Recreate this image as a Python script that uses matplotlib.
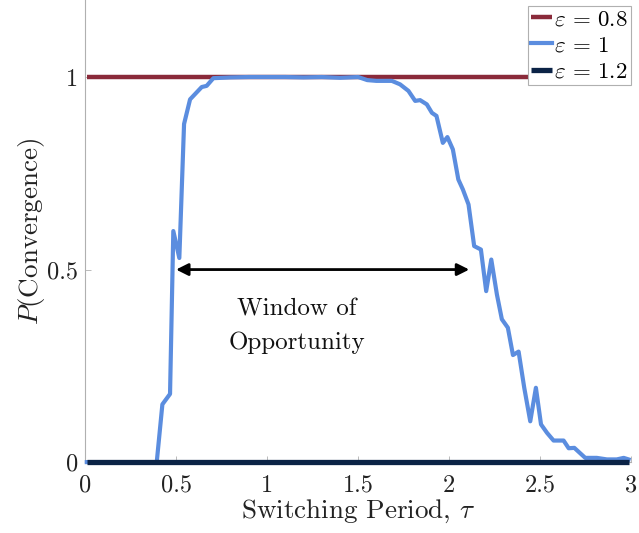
import matplotlib
matplotlib.use("Agg")
import matplotlib.pyplot as plt

plt.rcParams['font.family'] = ['cmr10', 'DejaVu Serif']
plt.rcParams['mathtext.fontset'] = 'cm'
plt.rcParams['axes.formatter.use_mathtext'] = True

# constant series
tau_const = [0.01, 2.985]
p_eps08 = [1.0, 1.0]
p_eps12 = [0.0, 0.0]

# epsilon = 1 series
tau_eps1 = [0.01, 0.394, 0.425, 0.467, 0.485, 0.518, 0.544, 0.577, 0.641, 0.668, 0.705,
            0.8, 0.9, 1.0, 1.1, 1.2, 1.3, 1.4, 1.5, 1.55, 1.6, 1.685, 1.73, 1.776,
            1.813, 1.84, 1.877, 1.905, 1.93, 1.965, 1.99, 2.02, 2.05, 2.075, 2.106,
            2.137, 2.174, 2.203, 2.231, 2.262, 2.289, 2.322, 2.35, 2.381, 2.412,
            2.445, 2.476, 2.504, 2.537, 2.573, 2.628, 2.656, 2.687, 2.747, 2.81,
            2.866, 2.92, 2.958, 2.985]
p_eps1 = [0.0, 0.0, 0.15, 0.177, 0.60, 0.53, 0.878, 0.942, 0.974, 0.977, 0.997,
          0.999, 1.0, 1.0, 1.0, 0.999, 1.0, 0.998, 1.0, 0.992, 0.99, 0.99, 0.981, 0.964,
          0.938, 0.94, 0.929, 0.907, 0.899, 0.829, 0.844, 0.812, 0.734, 0.708, 0.669,
          0.561, 0.552, 0.444, 0.526, 0.435, 0.371, 0.349, 0.278, 0.287, 0.193,
          0.106, 0.193, 0.098, 0.076, 0.056, 0.056, 0.036, 0.037, 0.011, 0.011,
          0.007, 0.007, 0.011, 0.007]

labels = [r'$\varepsilon \,=\, 0.8$', r'$\varepsilon \,=\, 1$', r'$\varepsilon \,=\, 1.2$']
colors = ['#8a2a3a', '#5b8ddf', '#0b2346']
xticks = [0, 0.5, 1, 1.5, 2, 2.5, 3]
xticklabels = ['0', '0.5', '1', '1.5', '2', '2.5', '3']
yticks = [0, 0.5, 1]
yticklabels = ['0', '0.5', '1']

fig = plt.figure(figsize=(6.39, 5.33), dpi=100)
ax = fig.add_axes([0.133, 0.133, 0.855, 0.867])

ax.plot(tau_const, p_eps08, color=colors[0], lw=3.2, label=labels[0], clip_on=False,
        solid_capstyle='butt', zorder=3)
ax.plot(tau_eps1, p_eps1, color=colors[1], lw=3.0, label=labels[1], clip_on=False,
        solid_joinstyle='round', zorder=3)
ax.plot(tau_const, p_eps12, color=colors[2], lw=3.8, label=labels[2], clip_on=False,
        solid_capstyle='butt', zorder=3)

ax.set_xlim(0, 3)
ax.set_ylim(0, 1.2)
ax.set_xticks(xticks)
ax.set_xticklabels(xticklabels)
ax.set_yticks(yticks)
ax.set_yticklabels(yticklabels)

for s in ['top', 'right']:
    ax.spines[s].set_visible(False)
for s in ['left', 'bottom']:
    ax.spines[s].set_color('#b0b0b0')
    ax.spines[s].set_linewidth(0.8)
    ax.spines[s].set_zorder(1)
ax.tick_params(direction='in', length=4, width=0.6, color='#b0b0b0',
               labelsize=17.5, labelcolor='#222222', pad=5)
ax.tick_params(axis='x', pad=9)

ax.set_xlabel(r'Switching Period, $\tau$', fontsize=19.5, color='#222222', labelpad=1)
ax.set_ylabel(r'$P$(Convergence)', fontsize=19.5, color='#222222', labelpad=0)

ax.annotate('', xy=(0.5, 0.5), xytext=(2.11, 0.5),
            arrowprops=dict(arrowstyle='<|-|>', color='black', lw=2.0,
                            mutation_scale=18, shrinkA=0, shrinkB=0))
ax.text(1.165, 0.353, 'Window of\nOpportunity', ha='center', va='center',
        fontsize=18, color='#111111', linespacing=1.6)

leg = ax.legend(loc='upper right', bbox_to_anchor=(1.0, 0.988), fontsize=16.5,
                handlelength=0.9, handletextpad=0.1, borderpad=0.15,
                labelspacing=0.28, fancybox=False, framealpha=1,
                edgecolor='#b0b0b0', borderaxespad=0)
leg.get_frame().set_linewidth(0.8)

fig.savefig('out.png', dpi=100)
